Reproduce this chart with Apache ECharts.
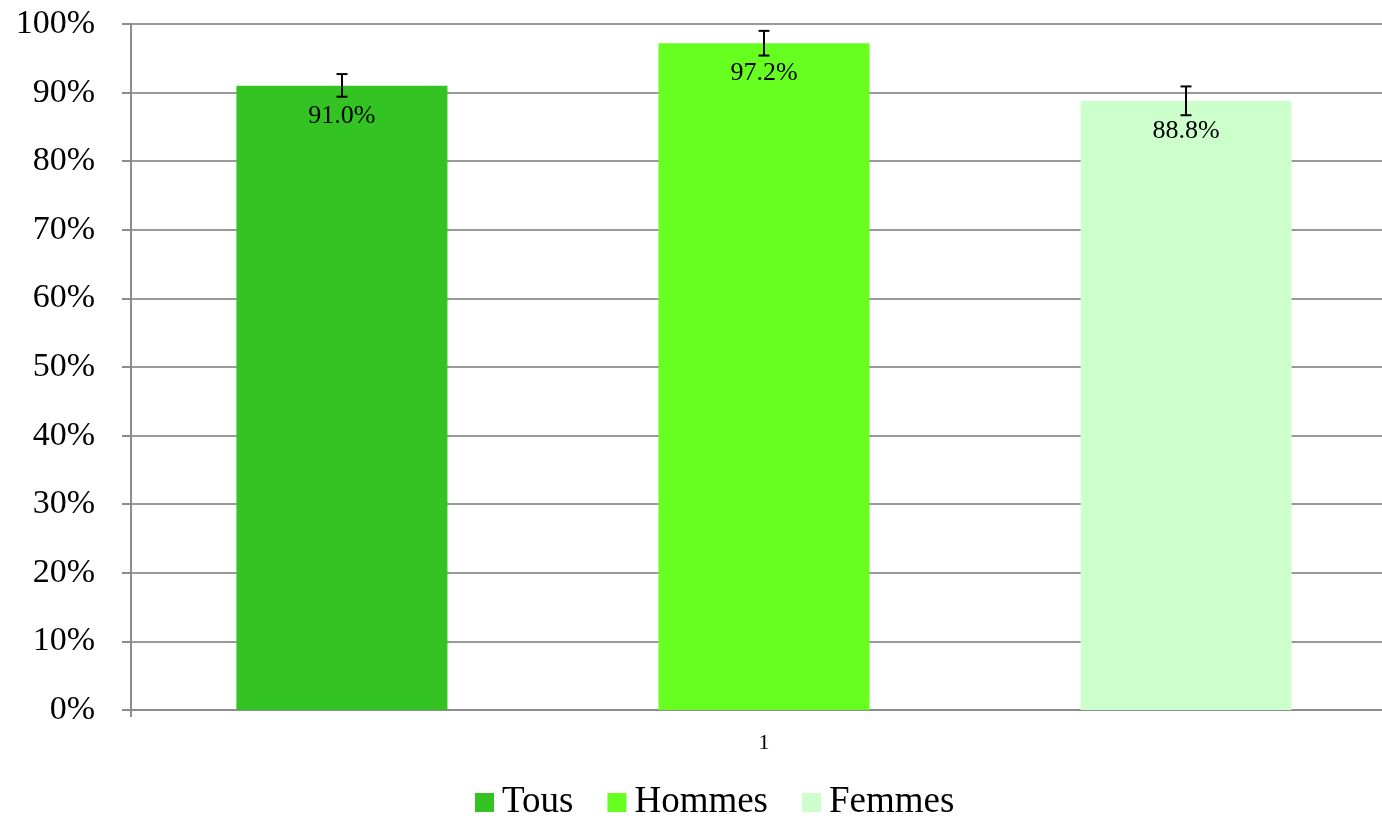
<!DOCTYPE html>
<html>
<head>
<meta charset="utf-8">
<script src="https://cdn.jsdelivr.net/npm/echarts@6/dist/echarts.min.js"></script>
<style>html,body{margin:0;padding:0;background:#fff;overflow:hidden;width:1382px;height:816px;}#c{width:1397px;height:816px;}</style>
</head>
<body>
<div id="c"></div>
<script>
const categories = ['1'];
const seriesNames = ['Tous', 'Hommes', 'Femmes'];
const seriesColors = ['#33c322', '#66ff1f', '#ccffcc'];
const values = [91.0, 97.2, 88.8];
const errLow = [89.4, 95.4, 86.7];
const errHigh = [92.7, 99.0, 90.9];
const yTicks = [0, 10, 20, 30, 40, 50, 60, 70, 80, 90, 100];

const font = '"Liberation Serif", "Times New Roman", serif';
const chart = echarts.init(document.getElementById('c'));

const barSeries = seriesNames.map((name, i) => ({
  name: name,
  type: 'bar',
  data: [values[i]],
  barWidth: '16.67%',
  barGap: '100%',
  itemStyle: { color: seriesColors[i] },
  label: {
    show: true,
    position: 'insideTop',
    distance: 17,
    formatter: p => p.value.toFixed(1) + '%',
    fontFamily: font,
    fontSize: 26,
    color: '#000'
  },
  z: 2
}));

const errData = seriesNames.map((n, i) => [i, errLow[i], errHigh[i]]);

chart.setOption({
  animation: false,
  textStyle: { fontFamily: font },
  grid: { left: 131, right: 0, top: 24, bottom: 106, containLabel: false },
  legend: {
    data: seriesNames,
    top: 779,
    left: 470,
    itemWidth: 19,
    itemHeight: 19,
    itemGap: 34,
    icon: 'rect',
    textStyle: { fontFamily: font, fontSize: 37, color: '#000', padding: [0, 0, 0, 3] }
  },
  xAxis: {
    type: 'category',
    data: categories,
    axisLine: { lineStyle: { color: '#8c8c8c', width: 2 } },
    axisTick: { show: true, alignWithLabel: false, length: 7, lineStyle: { color: '#8c8c8c', width: 2 } },
    axisLabel: { fontFamily: font, fontSize: 22, color: '#000', margin: 22 }
  },
  yAxis: {
    type: 'value',
    min: 0,
    max: 100,
    interval: 10,
    axisLine: { show: true, lineStyle: { color: '#8c8c8c', width: 2 } },
    axisTick: { show: true, length: 9, lineStyle: { color: '#8c8c8c', width: 2 } },
    splitLine: { lineStyle: { color: '#999', width: 2 } },
    axisLabel: {
      fontFamily: font, fontSize: 34, color: '#000', margin: 36,
      formatter: v => yTicks.includes(v) ? v + '%' : ''
    }
  },
  series: barSeries.concat([{
    type: 'custom',
    name: 'err',
    data: errData,
    z: 5,
    renderItem: function (params, api) {
      const idx = api.value(0);
      const lo = api.coord([0, api.value(1)]);
      const hi = api.coord([0, api.value(2)]);
      const band = api.size([1, 0])[0];
      const x = lo[0] + (idx - 1) * band / 3;
      const cap = 5.5;
      const st = { stroke: '#000', lineWidth: 2 };
      return {
        type: 'group',
        children: [
          { type: 'line', shape: { x1: x, y1: hi[1], x2: x, y2: lo[1] }, style: st },
          { type: 'line', shape: { x1: x - cap, y1: hi[1], x2: x + cap, y2: hi[1] }, style: st },
          { type: 'line', shape: { x1: x - cap, y1: lo[1], x2: x + cap, y2: lo[1] }, style: st }
        ]
      };
    }
  }])
});
</script>
</body>
</html>
